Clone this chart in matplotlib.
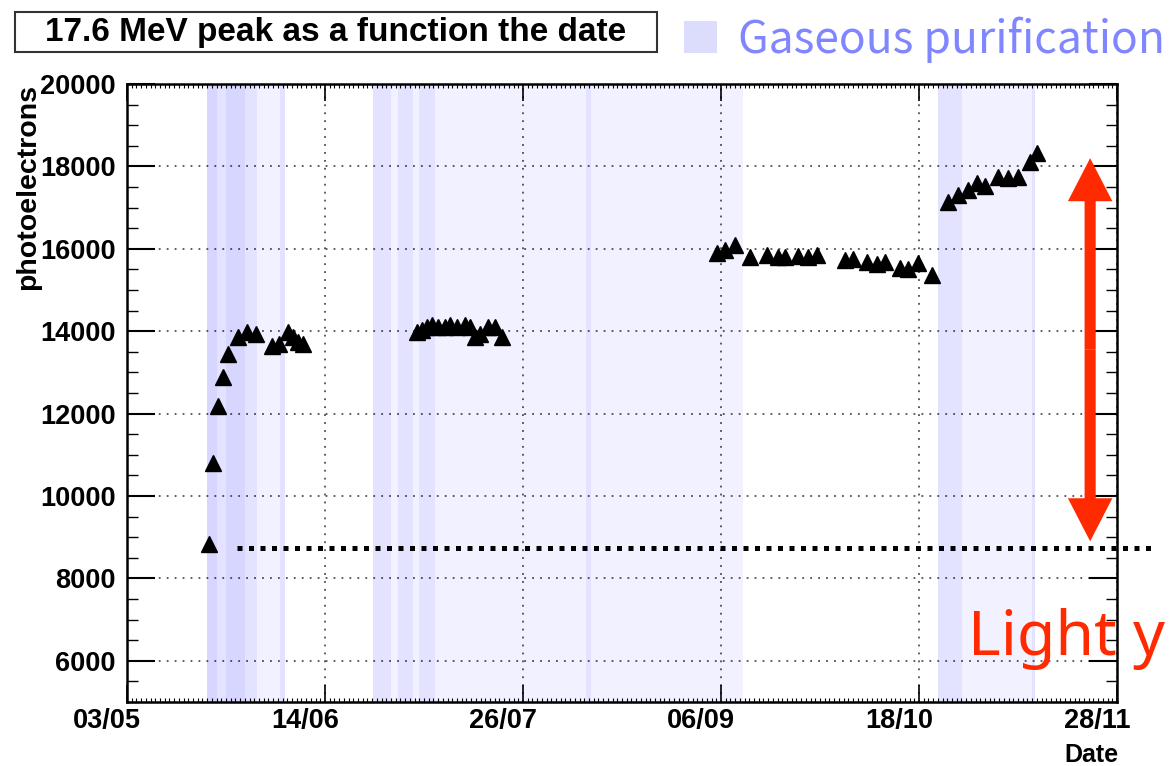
import matplotlib
matplotlib.use('Agg')
import matplotlib.pyplot as plt
import matplotlib.transforms as mtransforms
from matplotlib.patches import Rectangle, FancyArrowPatch
from matplotlib.ticker import MultipleLocator

# 17.6 MeV peak position, days counted from 03/05
day = [17.4, 18.2, 19.3, 20.4, 21.4, 23.5, 25.5, 27.4, 30.8, 32.2, 34.2, 35.2, 36.3, 37.3,
       61.5, 62.6, 63.6, 64.7, 66.0, 67.5, 68.5, 70.0, 71.7, 72.8, 73.8, 74.9, 76.6, 78.1, 79.5,
       125.2, 126.9, 129.0, 132.2, 135.8, 138.1, 139.6, 142.3, 144.5, 146.4, 152.3, 154.0,
       157.0, 159.1, 160.8, 164.0, 165.7, 167.8, 170.8,
       174.2, 176.3, 178.4, 180.3, 182.0, 184.8, 186.9, 189.0, 191.6, 193.0]
photoelectrons = [8830, 10800, 12180, 12880, 13440, 13870, 13970, 13920, 13630, 13680, 13970, 13870, 13750, 13680,
                  13970, 14040, 14110, 14160, 14110, 14110, 14160, 14090, 14160, 14090, 13870, 13920, 14090, 14110, 13870,
                  15910, 15980, 16100, 15810, 15860, 15790, 15810, 15830, 15790, 15860, 15740, 15760,
                  15690, 15620, 15690, 15540, 15520, 15660, 15370,
                  17140, 17310, 17430, 17600, 17530, 17750, 17720, 17750, 18110, 18330]

# gaseous purification periods (start day, end day); overlapping ones look darker
purification = [(17.0, 33.5), (17.0, 27.6), (17.0, 19.0), (21.0, 25.0), (32.5, 33.5),
                (52.2, 130.7), (52.2, 56.0), (57.5, 60.7), (61.9, 65.3), (97.4, 98.4),
                (172.0, 192.6), (172.0, 177.1), (192.0, 192.6)]

tick_days = [0, 42, 84, 126, 168, 210]
tick_labels = ['03/05', '14/06', '26/07', '06/09', '18/10', '28/11']

start_level = 8750
arrow_low, arrow_high = 8900, 18200
arrow_day = 204.3
line_start, line_end = 23.3, 217.8

band_color = '#0000ff'
red = '#ff2a00'
bold = dict(family='Liberation Sans', weight='bold')

fig = plt.figure(figsize=(11.73, 7.66), dpi=100)
ax = fig.add_axes([127 / 1173, 1 - 702 / 766, 990 / 1173, 618 / 766])

for a, b in purification:
    ax.axvspan(a, b, color=band_color, alpha=0.055, lw=0, zorder=0)

ax.plot(day, photoelectrons, '^', color='black', markersize=11, zorder=5)

ax.set_xlim(0, 210)
ax.set_ylim(5000, 20000)
ax.set_xticks(tick_days)
ax.set_xticklabels([])
ax.xaxis.set_minor_locator(MultipleLocator(1))
ax.yaxis.set_major_locator(MultipleLocator(2000))
ax.yaxis.set_minor_locator(MultipleLocator(500))
for lab in ax.get_yticklabels():
    lab.set_fontsize(19.5)
    lab.set_fontfamily('Liberation Sans')
    lab.set_fontweight('bold')

# date labels sit a little left of their ticks
shift = mtransforms.ScaledTranslation(-0.2, -0.06, fig.dpi_scale_trans)
for d, lab in zip(tick_days, tick_labels):
    ax.text(d, 0, lab, transform=ax.get_xaxis_transform() + shift,
            ha='center', va='top', fontsize=19.5, **bold)

ax.tick_params(axis='both', which='both', direction='in', top=True, right=True, colors='black')
ax.tick_params(axis='x', which='major', length=12, width=1.2)
ax.tick_params(axis='x', which='minor', length=3, width=0.8)
ax.tick_params(axis='y', which='major', length=20, width=1.5, pad=8)
ax.tick_params(axis='y', which='minor', length=8, width=1.0)
for s in ax.spines.values():
    s.set_linewidth(1.8)

ax.grid(True, which='major', color='black', linestyle=(0, (1.2, 4)), linewidth=1.1, alpha=0.8)
ax.set_axisbelow(False)

# starting light yield level
ax.plot([line_start, line_end], [start_level, start_level], color='black', lw=3.6,
        linestyle=(0, (1, 1.3)), dash_capstyle='butt', clip_on=False, zorder=6)

# light yield gain
mid = (arrow_low + arrow_high) / 2
for end in (arrow_high, arrow_low):
    arr = FancyArrowPatch((arrow_day, mid), (arrow_day, end),
                          arrowstyle='simple,head_length=3.1,head_width=3.2,tail_width=0.8',
                          mutation_scale=10, color=red, lw=0, shrinkA=0, shrinkB=0,
                          clip_on=False, zorder=7)
    ax.add_patch(arr)

# title box
fig.patches.append(Rectangle((15 / 1173, 1 - 52 / 766), 642 / 1173, 40 / 766,
                             transform=fig.transFigure, facecolor='white',
                             edgecolor='#333333', lw=1.5))
fig.text(336 / 1173, 1 - 32 / 766, '17.6 MeV peak as a function the date',
         ha='center', va='center', fontsize=24, **bold)

# purification legend
fig.patches.append(Rectangle((684 / 1173, 1 - 53 / 766), 33 / 1173, 32 / 766,
                             transform=fig.transFigure, facecolor='#dcdcfd', lw=0))
fig.text(738 / 1173, 1 - 53 / 766, 'Gaseous purification', ha='left', va='baseline',
         fontsize=32, color='#7f86ff', family='Noto Sans CJK JP')

fig.text(968 / 1173, 1 - 655 / 766, 'Light y', ha='left', va='baseline',
         fontsize=45, color=red, family='Noto Sans')

fig.text(28 / 1173, 1 - 84 / 766, 'photoelectrons', rotation=90, ha='center', va='top',
         fontsize=20.5, **bold)
fig.text(1118 / 1173, 1 - 755 / 766, 'Date', ha='right', va='center', fontsize=18, **bold)

fig.savefig('out.png', dpi=100)
